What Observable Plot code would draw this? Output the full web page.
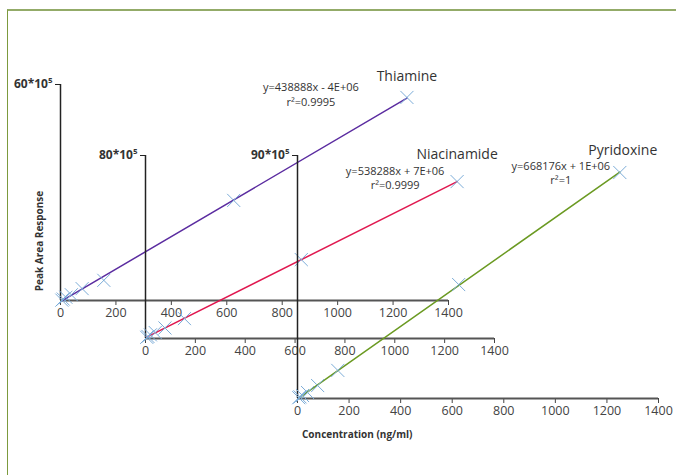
<!DOCTYPE html>
<html>
<head>
<meta charset="utf-8">
<script src="https://cdn.jsdelivr.net/npm/d3@7"></script>
<script src="https://cdn.jsdelivr.net/npm/@observablehq/plot@0.6"></script>
<style>
  html, body { margin: 0; padding: 0; background: #fff; }
  #wrap { position: relative; width: 676px; height: 475px; overflow: hidden; font-family: "Open Sans", "Noto Sans", sans-serif; }
  #frame { position: absolute; left: 7px; top: 9px; width: 700px; height: 500px; border-top: 2px solid #93ab68; border-left: 1.5px solid #7c9a3e; }
  #wrap svg { position: absolute; left: 0; top: 0; }
  .lbl { position: absolute; font-weight: bold; font-size: 10px; color: #333; white-space: nowrap; }
</style>
</head>
<body>
<div id="wrap">
  <div id="frame"></div>
  <div class="lbl" style="left:302px; top:427px;">Concentration (ng/ml)</div>
  <div class="lbl" style="left:39px; top:241px; transform: translate(-50%,-50%) rotate(-90deg);">Peak Area Response</div>
</div>
<script>
// ---- data ----
const compounds = ["Thiamine", "Niacinamide", "Pyridoxine"];
const concentration = [4.9, 9.8, 19.5, 39.1, 78.1, 156.3, 625, 1250];
const thiamine    = [0.1, 0.4, 0.9, 1.6, 3.3, 5.6, 27.8, 56.4];
const niacinamide = [0.5, 0.9, 1.6, 2.6, 4.6, 8.7, 34.5, 68.6];
const pyridoxine  = [0.3, 0.6, 1.1, 2.2, 4.8, 10.4, 42.2, 83.7];
const equations = ["y=438888x - 4E+06", "y=538288x + 7E+06", "y=668176x + 1E+06"];
const rSquared = ["r²=0.9995", "r²=0.9999", "r²=1"];
const yMax = [60, 80, 90];
const yTopLabels = ["60*10⁵", "80*10⁵", "90*10⁵"];
const xTicks = [0, 200, 400, 600, 800, 1000, 1200, 1400];
const lineColors = ["#5b2ca0", "#e0174f", "#6b9a22"];

// ---- layout (pixel margins of each offset axis system) ----
const layout = [
  {left: 60,  right: 228, top: 84,  bottom: 175, nameDx: 0, nameDy: -21, eqDx: -96, eqDy: -10, r2Dy: 3},
  {left: 145, right: 182, top: 155, bottom: 137, nameDx: 0, nameDy: -27, eqDx: -62, eqDy: -10, r2Dy: 2},
  {left: 297, right: 18,  top: 155, bottom: 77,  nameDx: 3, nameDy: -22, eqDx: -59, eqDy: -6,  r2Dy: 2}
];
const series = [thiamine, niacinamide, pyridoxine];
const wrap = document.getElementById("wrap");

compounds.forEach((name, i) => {
  const data = concentration.map((c, k) => ({x: c, y: series[i][k]}));
  const last = [data[data.length - 1]];
  const L = layout[i];
  const svg = Plot.plot({
    width: 676, height: 475,
    marginLeft: L.left, marginRight: L.right, marginTop: L.top, marginBottom: L.bottom,
    style: {background: "transparent", color: "#444", fontFamily: "'Open Sans', 'Noto Sans', sans-serif", overflow: "visible"},
    x: {domain: [0, 1400]},
    y: {domain: [0, yMax[i]]},
    marks: [
      Plot.axisX({ticks: xTicks, tickFormat: (d) => String(d), tickSize: 5, tickPadding: 3, fontSize: 12.5, label: null, stroke: "#444"}),
      Plot.axisY({ticks: [yMax[i]], tickFormat: () => yTopLabels[i], tickSize: 5, tickPadding: 3, fontSize: 12, fontWeight: "bold", fill: "#333", stroke: "#222", label: null}),
      Plot.ruleY([0], {stroke: "#555", strokeWidth: 1.8}),
      Plot.ruleX([0], {stroke: "#222", strokeWidth: 1.5}),
      Plot.linearRegressionY(data, {x: "x", y: "y", stroke: lineColors[i], strokeWidth: 1.5, ci: 0}),
      Plot.dot(data, {x: "x", y: "y", symbol: "times", r: 6, stroke: "#7bacd8", strokeWidth: 1}),
      Plot.text(last, {x: "x", y: "y", text: () => name, dx: L.nameDx, dy: L.nameDy, fontSize: 14, fill: "#333"}),
      Plot.text(last, {x: "x", y: "y", text: () => equations[i], dx: L.eqDx, dy: L.eqDy, fontSize: 11, fill: "#333"}),
      Plot.text(last, {x: "x", y: "y", text: () => rSquared[i], dx: L.eqDx, dy: L.eqDy + 12 + L.r2Dy, fontSize: 11, fill: "#333"})
    ]
  });
  wrap.appendChild(svg);
});
</script>
</body>
</html>
